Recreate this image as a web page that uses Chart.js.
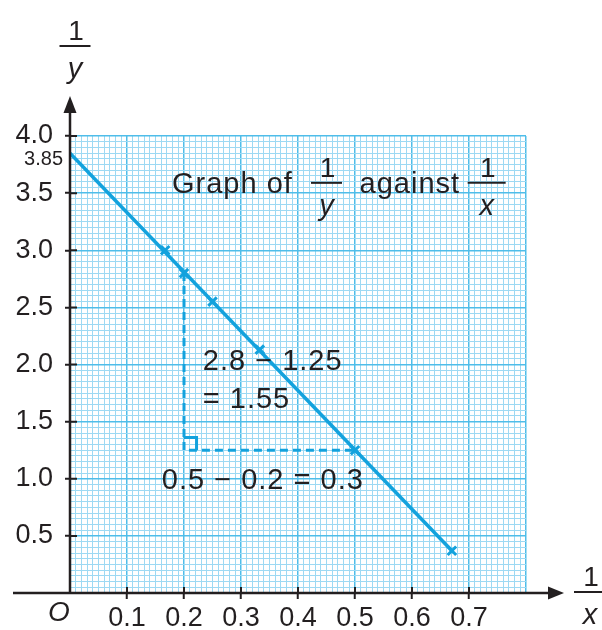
<!DOCTYPE html>
<html>
<head>
<meta charset="utf-8">
<script src="https://cdn.jsdelivr.net/npm/chart.js@4.4.1/dist/chart.umd.min.js"></script>
<style>
  html, body { margin: 0; padding: 0; background: #fff; }
  canvas { display: block; }
</style>
</head>
<body>
<canvas id="graph" width="602" height="630"></canvas>
<script>
// 1/x values and 1/y values
var recipX = [0.167, 0.2, 0.25, 0.333, 0.5, 0.67];
var recipY = [3.0, 2.8, 2.55, 2.13, 1.25, 0.37];

// line of best fit: intercept 3.85 on the 1/y axis
var fitX = [0, 0.67];
var fitY = [3.85, 0.37];

// gradient triangle
var triX = [0.2, 0.2, 0.5];
var triY = [2.8, 1.25, 1.25];
var cornerX = [0.2, 0.222, 0.222];
var cornerY = [1.36, 1.36, 1.25];

var xTickLabels = ["0.1", "0.2", "0.3", "0.4", "0.5", "0.6", "0.7"];
var yTickLabels = ["0.5", "1.0", "1.5", "2.0", "2.5", "3.0", "3.5", "4.0"];

var blue = "#13a2dd";
var ink = "#231f20";
var font = '"Liberation Sans", Arial, sans-serif';

function pts(xs, ys) {
    return xs.map(function (x, i) { return { x: x, y: ys[i] }; });
}

function isMajor(v, per) {
    return Math.round(v * per) % 10 === 0;
}

var extras = {
    id: "extras",
    afterDatasetsDraw: function (chart) {
        var c = chart.ctx;
        var xs = chart.scales.x;
        var ys = chart.scales.y;
        var x0 = xs.getPixelForValue(0);
        var y0 = ys.getPixelForValue(0);
        var area = chart.chartArea;
        c.save();

        // axes with arrows
        c.strokeStyle = ink;
        c.fillStyle = ink;
        c.lineWidth = 2.5;
        c.beginPath();
        c.moveTo(13, y0);
        c.lineTo(552, y0);
        c.moveTo(x0, y0);
        c.lineTo(x0, 110);
        c.stroke();
        c.beginPath();
        c.moveTo(564, y0);
        c.lineTo(548, y0 - 6.5);
        c.lineTo(548, y0 + 6.5);
        c.closePath();
        c.fill();
        c.beginPath();
        c.moveTo(x0, 96);
        c.lineTo(x0 - 6.5, 113);
        c.lineTo(x0 + 6.5, 113);
        c.closePath();
        c.fill();

        // inner part of tick marks
        c.lineWidth = 2;
        c.beginPath();
        xs.ticks.forEach(function (t) {
            if (xTickLabels.indexOf(t.label) >= 0) {
                var px = xs.getPixelForValue(t.value);
                c.moveTo(px, y0);
                c.lineTo(px, y0 - 6);
            }
        });
        ys.ticks.forEach(function (t) {
            if (yTickLabels.indexOf(t.label) >= 0) {
                var py = ys.getPixelForValue(t.value);
                c.moveTo(x0, py);
                c.lineTo(x0 + 7, py);
            }
        });
        c.stroke();

        // text
        c.textBaseline = "middle";
        c.textAlign = "right";
        c.font = "20px " + font;
        c.fillText("3.85", 63, ys.getPixelForValue(3.85) + 6);

        c.textAlign = "center";
        c.font = "italic 28px " + font;
        c.fillText("O", x0 - 11, 613);

        function frac(cx, barY, den, w) {
            c.letterSpacing = "0px";
            c.font = "28px " + font;
            c.textAlign = "center";
            c.fillText("1", cx + 1, barY - 14);
            c.lineWidth = 2;
            c.beginPath();
            c.moveTo(cx - w / 2, barY);
            c.lineTo(cx + w / 2, barY);
            c.stroke();
            c.font = "italic 29px " + font;
            c.fillText(den, cx, barY + 24);
        }
        frac(x0 + 5, 46, "y", 31);
        frac(area.right + 64, y0 - 1, "x", 32);

        function say(txt, xv, yv) {
            c.textAlign = "left";
            c.font = "29px " + font;
            c.letterSpacing = "1px";
            c.fillText(txt, xs.getPixelForValue(xv), ys.getPixelForValue(yv));
        }
        say("Graph of", 0.179, 3.57);
        frac(xs.getPixelForValue(0.45), ys.getPixelForValue(3.59), "y", 31);
        say("against", 0.508, 3.57);
        frac(xs.getPixelForValue(0.731), ys.getPixelForValue(3.59), "x", 38);

        say("2.8 \u2212 1.25", 0.233, 2.02);
        say("= 1.55", 0.233, 1.69);
        say("0.5 \u2212 0.2 = 0.3", 0.161, 0.98);
        c.restore();
    }
};

var chart = new Chart(document.getElementById("graph").getContext("2d"), {
    type: "scatter",
    data: {
        datasets: [
            {
                label: "best fit",
                data: pts(fitX, fitY),
                showLine: true,
                borderColor: blue,
                borderWidth: 3.5,
                pointRadius: 0,
            },
            {
                label: "gradient",
                data: pts(triX, triY),
                showLine: true,
                borderColor: blue,
                borderWidth: 3,
                borderDash: [8, 5],
                pointRadius: 0,
            },
            {
                label: "corner",
                data: pts(cornerX, cornerY),
                showLine: true,
                borderColor: blue,
                borderWidth: 3,
                pointRadius: 0,
            },
            {
                label: "points",
                data: pts(recipX, recipY),
                pointStyle: "crossRot",
                pointRadius: 6,
                borderColor: blue,
                borderWidth: 3,
            },
        ],
    },
    options: {
        responsive: false,
        animation: false,
        layout: { padding: { top: 136, right: 76, left: 0, bottom: 0 } },
        plugins: { legend: { display: false }, tooltip: { enabled: false } },
        scales: {
            x: {
                type: "linear",
                min: 0,
                max: 0.8,
                afterFit: function (s) { s.height = 37; },
                border: { display: false },
                grid: {
                    color: function (ctx) { return isMajor(ctx.tick.value, 100) ? "#4fbde9" : "#9dd9f3"; },
                    lineWidth: function (ctx) { return isMajor(ctx.tick.value, 100) ? 1.5 : 1; },
                    tickColor: function (ctx) {
                        return ctx.tick && xTickLabels.indexOf(ctx.tick.label) >= 0 ? ink : "rgba(0,0,0,0)";
                    },
                    tickLength: 6,
                    tickWidth: 2,
                },
                ticks: {
                    stepSize: 0.01,
                    autoSkip: false,
                    maxRotation: 0,
                    padding: 3,
                    color: ink,
                    font: { family: font, size: 27 },
                    callback: function (v) {
                        var s = v.toFixed(1);
                        return isMajor(v, 100) && xTickLabels.indexOf(s) >= 0 ? s : "";
                    },
                },
            },
            y: {
                type: "linear",
                min: 0,
                max: 4,
                afterFit: function (s) { s.width = 70; },
                border: { display: false },
                grid: {
                    color: function (ctx) { return isMajor(ctx.tick.value, 20) ? "#4fbde9" : "#9dd9f3"; },
                    lineWidth: function (ctx) { return isMajor(ctx.tick.value, 20) ? 1.5 : 1; },
                    tickColor: function (ctx) {
                        return ctx.tick && yTickLabels.indexOf(ctx.tick.label) >= 0 ? ink : "rgba(0,0,0,0)";
                    },
                    tickLength: 5,
                    tickWidth: 2,
                },
                ticks: {
                    stepSize: 0.05,
                    autoSkip: false,
                    padding: 12,
                    color: ink,
                    font: { family: font, size: 27 },
                    callback: function (v) {
                        var s = v.toFixed(1);
                        return isMajor(v, 20) && yTickLabels.indexOf(s) >= 0 ? s : "";
                    },
                },
            },
        },
    },
    plugins: [extras],
});
</script>
</body>
</html>
